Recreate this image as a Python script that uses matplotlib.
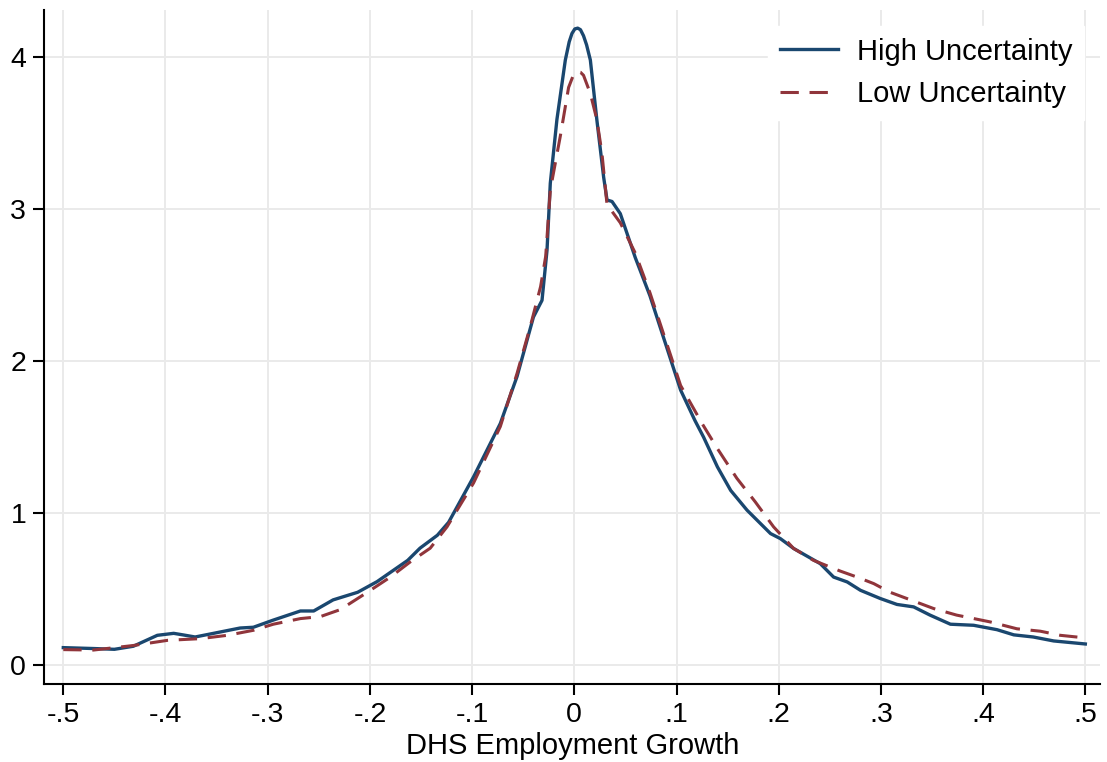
import matplotlib.pyplot as plt

plt.rcParams['font.family'] = ['Liberation Sans', 'DejaVu Sans']

# High uncertainty density
x_high = [-0.50, -0.47, -0.45, -0.4315, -0.408, -0.392, -0.383, -0.371, -0.353, -0.327,
          -0.314, -0.295, -0.268, -0.255, -0.236, -0.212, -0.193, -0.163, -0.151, -0.134,
          -0.123, -0.0985, -0.0724, -0.056, -0.040, -0.0316, -0.0267, -0.0235, -0.017, -0.0088,
          -0.005, -0.0023, 0.0005, 0.0033, 0.006, 0.009, 0.012, 0.0157, 0.022, 0.0287,
          0.032, 0.0369, 0.045, 0.0597, 0.074, 0.104, 0.118, 0.1265, 0.14, 0.153,
          0.169, 0.192, 0.2016, 0.2146, 0.2407, 0.2537, 0.267, 0.28, 0.2994, 0.3157,
          0.332, 0.348, 0.368, 0.3907, 0.4136, 0.43, 0.449, 0.469, 0.50]
y_high = [0.116, 0.11, 0.105, 0.125, 0.197, 0.21, 0.20, 0.186, 0.21, 0.245,
          0.25, 0.296, 0.357, 0.357, 0.43, 0.48, 0.55, 0.69, 0.77, 0.855,
          0.94, 1.24, 1.59, 1.90, 2.29, 2.40, 2.73, 3.17, 3.59, 3.98,
          4.10, 4.155, 4.185, 4.19, 4.18, 4.14, 4.08, 3.98, 3.59, 3.21,
          3.06, 3.05, 2.97, 2.68, 2.43, 1.81, 1.61, 1.50, 1.305, 1.15,
          1.02, 0.866, 0.833, 0.768, 0.668, 0.58, 0.548, 0.493, 0.439, 0.40,
          0.384, 0.33, 0.27, 0.263, 0.234, 0.20, 0.186, 0.16, 0.14]

# Low uncertainty density
x_low = [-0.50, -0.4706, -0.4315, -0.398, -0.366, -0.3395, -0.314, -0.2945, -0.268, -0.2485,
         -0.229, -0.2025, -0.18, -0.1605, -0.141, -0.1246, -0.0985, -0.0724, -0.056, -0.043,
         -0.033, -0.028, -0.0235, -0.0137, -0.0056, -0.001, 0.0026, 0.006, 0.009, 0.0157,
         0.022, 0.027, 0.032, 0.045, 0.0597, 0.074, 0.104, 0.125, 0.14, 0.159,
         0.177, 0.195, 0.2146, 0.234, 0.26, 0.2766, 0.293, 0.309, 0.329, 0.3516,
         0.374, 0.407, 0.433, 0.456, 0.4755, 0.50]
y_low = [0.103, 0.10, 0.13, 0.164, 0.175, 0.197, 0.23, 0.27, 0.307, 0.32,
         0.366, 0.48, 0.58, 0.68, 0.77, 0.91, 1.20, 1.57, 1.92, 2.23,
         2.49, 2.69, 3.125, 3.48, 3.80, 3.88, 3.905, 3.90, 3.88, 3.76,
         3.59, 3.37, 3.03, 2.91, 2.71, 2.45, 1.84, 1.59, 1.425, 1.23,
         1.075, 0.91, 0.768, 0.69, 0.62, 0.58, 0.537, 0.48, 0.43, 0.373,
         0.33, 0.285, 0.24, 0.224, 0.197, 0.18]

xticks = [-0.5, -0.4, -0.3, -0.2, -0.1, 0, 0.1, 0.2, 0.3, 0.4, 0.5]
xtick_labels = ['-.5', '-.4', '-.3', '-.2', '-.1', '0', '.1', '.2', '.3', '.4', '.5']
yticks = [0, 1, 2, 3, 4]

fig = plt.figure(figsize=(11.07, 7.62), dpi=100)
ax = fig.add_axes([0.040, 0.102, 0.954, 0.885])

ax.plot(x_high, y_high, color='#1a476f', lw=2.4, label='High Uncertainty')
ax.plot(x_low, y_low, color='#90353b', lw=2.2, ls=(0, (6, 3.5)), label='Low Uncertainty')

ax.set_xlim(-0.5186, 0.5147)
ax.set_ylim(-0.125, 4.31)
ax.set_xticks(xticks)
ax.set_xticklabels(xtick_labels)
ax.set_yticks(yticks)
ax.grid(True, color='#eaeaea', lw=1.4)
ax.set_axisbelow(True)

for s in ['top', 'right']:
    ax.spines[s].set_visible(False)
for s in ['left', 'bottom']:
    ax.spines[s].set_linewidth(1.5)
ax.tick_params(direction='out', length=8, width=1.5, labelsize=20.5, pad=5)

ax.set_xlabel('DHS Employment Growth', fontsize=21, labelpad=3)

leg = ax.legend(loc='upper right', fontsize=21, frameon=True, fancybox=False,
                edgecolor='white', framealpha=1, handlelength=2.0, handletextpad=0.65,
                borderaxespad=0.55, labelspacing=0.5)

fig.savefig('out.png', dpi=100)
